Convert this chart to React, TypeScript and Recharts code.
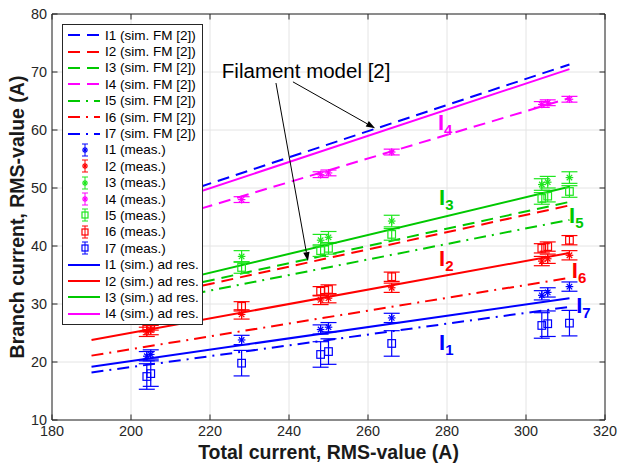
import React from "react";
import {
  ComposedChart,
  Line,
  Scatter,
  ErrorBar,
  XAxis,
  YAxis,
  CartesianGrid,
  ReferenceLine,
  ReferenceDot,
  Legend,
} from "recharts";

const FONT = '"Liberation Sans", Arial, Helvetica, sans-serif';
const AXIS_COLOR = "#262626";
const GRID_COLOR = "#e4e4e4";

const BLUE = "#0000ff";
const RED = "#ff0000";
const GREEN = "#00c800";
const GREEN_MEAS = "#1ee61e";
const MAGENTA = "#ff00ff";

const X_TICKS = [180, 200, 220, 240, 260, 280, 300, 320];
const Y_TICKS = [10, 20, 30, 40, 50, 60, 70, 80];

// simulated lines: values at the two ends
const LINE_X = [190, 311];
const FM_I1 = [44.0, 71.3];
const FM_I2 = [29.0, 47.0];
const FM_I3 = [29.6, 47.6];
const FM_I4 = [40.8, 65.5];
const FM_I5 = [28.3, 44.5];
const FM_I6 = [21.1, 34.5];
const FM_I7 = [18.2, 29.5];
const AD_I1 = [19.2, 31.0];
const AD_I2 = [23.8, 38.8];
const AD_I3 = [30.5, 50.2];
const AD_I4 = [43.2, 70.5];

// measurements
const MEAS_X = [204, 205, 228, 248, 250, 266, 304, 305.5, 311];
const MEAS_I1 = [21.0, 21.3, 23.8, 25.6, 26.0, 27.6, 31.5, 32.0, 33.0];
const MEAS_I2 = [25.2, 25.5, 28.2, 30.7, 31.0, 32.8, 37.4, 37.8, 38.4];
const MEAS_I3 = [35.0, 35.4, 38.2, 41.0, 41.5, 44.3, 50.6, 51.0, 51.8];
const MEAS_I4 = [44.3, 44.6, 48.0, 52.3, 52.6, 56.2, 64.4, 64.7, 65.3];
const MEAS_I5 = [33.6, 34.0, 36.3, 39.2, 39.6, 42.0, 48.2, 48.6, 49.4];
const MEAS_I6 = [26.0, 26.3, 29.6, 32.2, 32.5, 34.7, 39.6, 39.9, 41.0];
const MEAS_I7 = [17.5, 18.0, 19.8, 21.3, 21.8, 23.2, 26.3, 26.6, 26.7];
const ERR_SMALL = [0.8, 0.8, 0.8, 0.8, 0.8, 0.8, 0.8, 0.8, 0.8];
const ERR_GREEN = [1.0, 1.0, 1.0, 1.0, 1.0, 1.0, 1.0, 1.0, 1.0];
const ERR_I4 = [0.5, 0.5, 0.5, 0.5, 0.5, 0.5, 0.5, 0.5, 0.5];
const ERR_I7 = [2.2, 2.2, 2.2, 2.2, 2.2, 2.2, 2.2, 2.2, 2.2];

// curve labels I_n
const LABEL_SUB = ["4", "3", "5", "2", "6", "7", "1"];
const LABEL_X = [277.7, 278, 310.9, 278, 311.6, 312.7, 278];
const LABEL_Y = [60, 47.1, 44, 36.6, 34.4, 28.4, 22.1];
const LABEL_COLOR = [MAGENTA, GREEN, GREEN, RED, RED, BLUE, BLUE];

// annotation
const NOTE_TEXT = "Filament model [2]";
const NOTE_POS = { x: 223, y: 69 };
const ARROWS = [
  [{ x: 241, y: 68.3 }, { x: 261.8, y: 60.3 }],
  [{ x: 236.7, y: 68.1 }, { x: 244.8, y: 37.4 }],
];

const DASH = "12 7";
const DASHDOT = "12 6 2 6";

const PLOT_W = 553;
const PLOT_H = 406;
const TICK_PX = 5.5;
const TX = (TICK_PX * 140) / PLOT_W;
const TY = (TICK_PX * 70) / PLOT_H;

type LineDef = { name: string; color: string; dash?: string; ys: number[] };
type MeasDef = { name: string; color: string; kind: "star" | "square"; ys: number[]; err: number[] };

const FM_LINES: LineDef[] = [
  { name: "I1 (sim. FM [2])", color: BLUE, dash: DASH, ys: FM_I1 },
  { name: "I2 (sim. FM [2])", color: RED, dash: DASH, ys: FM_I2 },
  { name: "I3 (sim. FM [2])", color: GREEN, dash: DASH, ys: FM_I3 },
  { name: "I4 (sim. FM [2])", color: MAGENTA, dash: DASH, ys: FM_I4 },
  { name: "I5 (sim. FM [2])", color: GREEN, dash: DASHDOT, ys: FM_I5 },
  { name: "I6 (sim. FM [2])", color: RED, dash: DASHDOT, ys: FM_I6 },
  { name: "I7 (sim. FM [2])", color: BLUE, dash: DASHDOT, ys: FM_I7 },
];

const MEAS: MeasDef[] = [
  { name: "I1 (meas.)", color: BLUE, kind: "star", ys: MEAS_I1, err: ERR_SMALL },
  { name: "I2 (meas.)", color: RED, kind: "star", ys: MEAS_I2, err: ERR_SMALL },
  { name: "I3 (meas.)", color: GREEN_MEAS, kind: "star", ys: MEAS_I3, err: ERR_GREEN },
  { name: "I4 (meas.)", color: MAGENTA, kind: "star", ys: MEAS_I4, err: ERR_I4 },
  { name: "I5 (meas.)", color: GREEN_MEAS, kind: "square", ys: MEAS_I5, err: ERR_GREEN },
  { name: "I6 (meas.)", color: RED, kind: "square", ys: MEAS_I6, err: ERR_SMALL },
  { name: "I7 (meas.)", color: BLUE, kind: "square", ys: MEAS_I7, err: ERR_I7 },
];

const AD_LINES: LineDef[] = [
  { name: "I1 (sim.) ad res.", color: BLUE, ys: AD_I1 },
  { name: "I2 (sim.) ad res.", color: RED, ys: AD_I2 },
  { name: "I3 (sim.) ad res.", color: GREEN, ys: AD_I3 },
  { name: "I4 (sim.) ad res.", color: MAGENTA, ys: AD_I4 },
];

const lineData = (ys: number[]) => LINE_X.map((x, i) => ({ x, y: ys[i] }));
const measData = (m: MeasDef) => MEAS_X.map((x, i) => ({ x, y: m.ys[i], err: m.err[i] }));

function Marker({ cx, cy, kind, color, r = 3.8 }: { cx: number; cy: number; kind: string; color: string; r?: number }) {
  if (kind === "square") {
    return <rect x={cx - r} y={cy - r} width={2 * r} height={2 * r} fill="none" stroke={color} strokeWidth={1.2} />;
  }
  const d = r * 0.72;
  return (
    <g stroke={color} strokeWidth={1.2}>
      <line x1={cx - r} y1={cy} x2={cx + r} y2={cy} />
      <line x1={cx} y1={cy - r} x2={cx} y2={cy + r} />
      <line x1={cx - d} y1={cy - d} x2={cx + d} y2={cy + d} />
      <line x1={cx - d} y1={cy + d} x2={cx + d} y2={cy - d} />
    </g>
  );
}

function markerShape(kind: string, color: string) {
  return (props: any) => {
    const { cx, cy } = props;
    if (cx == null || cy == null) return <g />;
    return <Marker cx={cx} cy={cy} kind={kind} color={color} />;
  };
}

function Arrow(p: any) {
  const { x1, y1, x2, y2 } = p;
  if ([x1, y1, x2, y2].some(v => v == null)) return <g />;
  const a = Math.atan2(y2 - y1, x2 - x1);
  const L = 9;
  const w = 3.2;
  const bx = x2 - L * Math.cos(a);
  const by = y2 - L * Math.sin(a);
  const nx = -Math.sin(a) * w;
  const ny = Math.cos(a) * w;
  return (
    <g>
      <line x1={x1} y1={y1} x2={bx} y2={by} stroke="#000" strokeWidth={1} />
      <polygon points={`${x2},${y2} ${bx + nx},${by + ny} ${bx - nx},${by - ny}`} fill="#000" />
    </g>
  );
}

function LegendBox() {
  const rows: { name: string; color: string; dash?: string; kind?: string }[] = [
    ...FM_LINES.map(l => ({ name: l.name, color: l.color, dash: l.dash })),
    ...MEAS.map(m => ({ name: m.name, color: m.color, kind: m.kind })),
    ...AD_LINES.map(l => ({ name: l.name, color: l.color })),
  ];
  return (
    <div
      style={{
        width: 139,
        height: 297,
        border: `1px solid ${AXIS_COLOR}`,
        background: "#fff",
        paddingTop: 2,
        fontFamily: FONT,
        fontSize: 13.5,
        color: "#000",
      }}
    >
      {rows.map(r => (
        <div key={r.name} style={{ height: 16.4, display: "flex", alignItems: "center", whiteSpace: "nowrap" }}>
          <svg width={42} height={16} style={{ flex: "none" }}>
            {r.kind ? (
              <g>
                <line x1={22} y1={2} x2={22} y2={14} stroke={r.color} strokeWidth={1} />
                <line x1={19} y1={2} x2={25} y2={2} stroke={r.color} strokeWidth={1} />
                <line x1={19} y1={14} x2={25} y2={14} stroke={r.color} strokeWidth={1} />
                <Marker cx={22} cy={8} kind={r.kind} color={r.color} r={3} />
              </g>
            ) : (
              <line x1={5} y1={8} x2={37} y2={8} stroke={r.color} strokeWidth={2} strokeDasharray={r.dash} />
            )}
          </svg>
          <span>{r.name}</span>
        </div>
      ))}
    </div>
  );
}

export default function App() {
  return (
    <div style={{ position: "absolute", left: 0, top: 0, width: 618, height: 468, background: "#fff" }}>
      <ComposedChart width={618} height={468} margin={{ top: 14, right: 13, left: 0, bottom: 0 }}>
        <CartesianGrid stroke={GRID_COLOR} strokeWidth={1} />
        <XAxis
          dataKey="x"
          type="number"
          domain={[180, 320]}
          ticks={X_TICKS}
          allowDataOverflow
          height={48}
          tickLine={false}
          tickSize={0}
          tickMargin={6}
          axisLine={{ stroke: AXIS_COLOR, strokeWidth: 1 }}
          tick={{ fill: "#262626", fontSize: 14.4, fontFamily: FONT }}
          label={{
            value: "Total current, RMS-value (A)",
            position: "center",
            dy: 8,
            style: { fontFamily: FONT, fontSize: 19.5, fontWeight: "bold", fill: "#1a1a1a" },
          }}
        />
        <YAxis
          type="number"
          domain={[10, 80]}
          ticks={Y_TICKS}
          allowDataOverflow
          width={52}
          tickLine={false}
          tickSize={0}
          tickMargin={5}
          axisLine={{ stroke: AXIS_COLOR, strokeWidth: 1 }}
          tick={{ fill: "#262626", fontSize: 14.4, fontFamily: FONT }}
          label={{
            value: "Branch current, RMS-value (A)",
            angle: -90,
            position: "center",
            dx: -9,
            style: { fontFamily: FONT, fontSize: 19.5, fontWeight: "bold", fill: "#1a1a1a", textAnchor: "middle" },
          }}
        />
        <ReferenceLine y={80} stroke={AXIS_COLOR} strokeWidth={1} />
        <ReferenceLine x={320} stroke={AXIS_COLOR} strokeWidth={1} />
        {X_TICKS.map(t => (
          <ReferenceLine key={`xb${t}`} segment={[{ x: t, y: 10 }, { x: t, y: 10 + TY }]} stroke={AXIS_COLOR} />
        ))}
        {X_TICKS.map(t => (
          <ReferenceLine key={`xt${t}`} segment={[{ x: t, y: 80 }, { x: t, y: 80 - TY }]} stroke={AXIS_COLOR} />
        ))}
        {Y_TICKS.map(t => (
          <ReferenceLine key={`yl${t}`} segment={[{ x: 180, y: t }, { x: 180 + TX, y: t }]} stroke={AXIS_COLOR} />
        ))}
        {Y_TICKS.map(t => (
          <ReferenceLine key={`yr${t}`} segment={[{ x: 320, y: t }, { x: 320 - TX, y: t }]} stroke={AXIS_COLOR} />
        ))}

        {FM_LINES.map(l => (
          <Line
            key={l.name}
            data={lineData(l.ys)}
            dataKey="y"
            type="linear"
            stroke={l.color}
            strokeWidth={2}
            strokeDasharray={l.dash}
            dot={false}
            activeDot={false}
            isAnimationActive={false}
          />
        ))}
        {MEAS.map(m => (
          <Scatter
            key={m.name}
            data={measData(m)}
            dataKey="y"
            shape={markerShape(m.kind, m.color)}
            isAnimationActive={false}
          >
            <ErrorBar dataKey="err" direction="y" width={8} stroke={m.color} strokeWidth={1.2} isAnimationActive={false} />
          </Scatter>
        ))}
        {AD_LINES.map(l => (
          <Line
            key={l.name}
            data={lineData(l.ys)}
            dataKey="y"
            type="linear"
            stroke={l.color}
            strokeWidth={2}
            dot={false}
            activeDot={false}
            isAnimationActive={false}
          />
        ))}

        {LABEL_SUB.map((s, i) => (
          <ReferenceDot
            key={`lab${s}`}
            x={LABEL_X[i]}
            y={LABEL_Y[i]}
            r={0}
            ifOverflow="visible"
            shape={(p: any) => (
              <text x={p.cx} y={p.cy} fill={LABEL_COLOR[i]} fontFamily={FONT} fontWeight="bold" fontSize={22}>
                I
                <tspan fontSize={15} dy={5}>
                  {s}
                </tspan>
              </text>
            )}
          />
        ))}
        <ReferenceDot
          x={NOTE_POS.x}
          y={NOTE_POS.y}
          r={0}
          ifOverflow="visible"
          shape={(p: any) => (
            <text x={p.cx} y={p.cy} fill="#000" fontFamily={FONT} fontSize={20.5}>
              {NOTE_TEXT}
            </text>
          )}
        />
        {ARROWS.map((seg, i) => (
          <ReferenceLine key={`arr${i}`} segment={seg} shape={Arrow} ifOverflow="visible" />
        ))}

        <Legend
          layout="vertical"
          align="center"
          verticalAlign="middle"
          content={() => <LegendBox />}
          wrapperStyle={{ left: 62, top: 24, width: 141, height: 299 }}
        />
      </ComposedChart>
    </div>
  );
}
